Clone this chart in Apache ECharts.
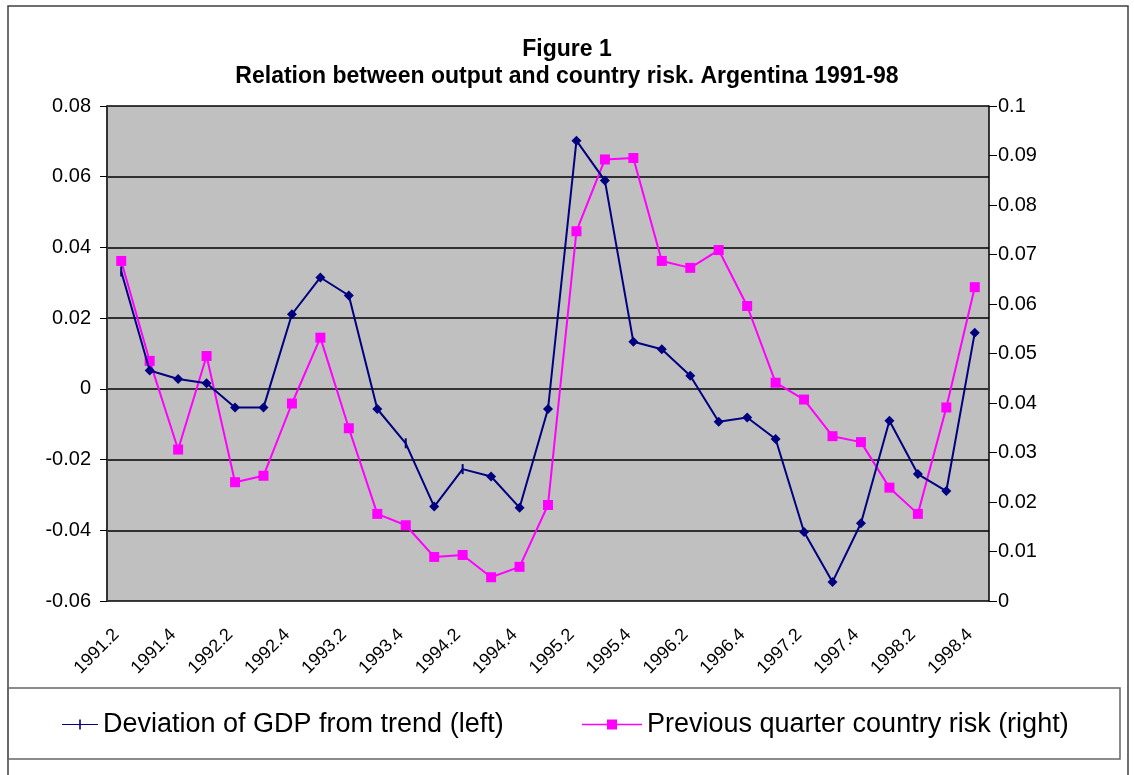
<!DOCTYPE html>
<html>
<head>
<meta charset="utf-8">
<title>Figure 1</title>
<script src="https://cdn.jsdelivr.net/npm/echarts@6/dist/echarts.min.js"></script>
<style>
  html, body { margin: 0; padding: 0; background: #fff; }
  #main { width: 1134px; height: 775px; }
</style>
</head>
<body>
<div id="main"></div>
<script>
const quarters = [
  '1991.2', '1991.3', '1991.4',
  '1992.1', '1992.2', '1992.3', '1992.4',
  '1993.1', '1993.2', '1993.3', '1993.4',
  '1994.1', '1994.2', '1994.3', '1994.4',
  '1995.1', '1995.2', '1995.3', '1995.4',
  '1996.1', '1996.2', '1996.3', '1996.4',
  '1997.1', '1997.2', '1997.3', '1997.4',
  '1998.1', '1998.2', '1998.3', '1998.4'
]
const gdpDeviation = [
  0.0332, 0.0052, 0.0028, 0.0016, -0.0053, -0.0053, 0.0211, 0.0315,
  0.0264, -0.0057, -0.0154, -0.0333, -0.0227, -0.0248, -0.0336, -0.0057,
  0.0702, 0.0589, 0.0133, 0.0112, 0.0037, -0.0093, -0.0081, -0.0142,
  -0.0405, -0.0546, -0.038, -0.009, -0.0241, -0.0289, 0.0159
]
const countryRisk = [
  0.0687, 0.0485, 0.0306, 0.0495, 0.0240, 0.0253, 0.0399, 0.0532,
  0.0349, 0.0176, 0.0153, 0.0089, 0.0093, 0.0048, 0.0069, 0.0194,
  0.0747, 0.0892, 0.0895, 0.0687, 0.0673, 0.0709, 0.0596, 0.0441,
  0.0407, 0.0333, 0.0321, 0.0229, 0.0176, 0.0391, 0.0634
]
// points that Excel drew as a short dash instead of a diamond
const dashPoints = [0, 10, 12]

const gdpName = 'Deviation of GDP from trend (left)'
const riskName = 'Previous quarter country risk (right)'
const font = 'Arial, "Liberation Sans", sans-serif'

const chart = echarts.init(document.getElementById('main'))

const gdpData = gdpDeviation.map((v, i) => {
  if (dashPoints.indexOf(i) >= 0) {
    return { value: v, symbol: 'rect', symbolSize: [2, 10] }
  }
  return v
})

chart.setOption({
  animation: false,
  backgroundColor: '#fff',
  title: {
    text: 'Figure 1\nRelation between output and country risk. Argentina 1991-98',
    left: 'center',
    top: 31,
    padding: [5, 0, 5, 20],
    textStyle: {
      fontFamily: font,
      fontSize: 23,
      fontWeight: 'bold',
      color: '#000',
      lineHeight: 27
    }
  },
  grid: {
    left: 107,
    right: 145,
    top: 106,
    bottom: 174,
    show: true,
    backgroundColor: '#c0c0c0',
    borderWidth: 0
  },
  legend: [
    {
      data: [{ name: gdpName, icon: 'path://M0,9.4H36V10.6H0Z M17.2,5H18.8V15H17.2Z' }],
      left: 62,
      top: 711,
      padding: 0,
      itemWidth: 36,
      itemHeight: 10,
      textStyle: { fontFamily: font, fontSize: 27, color: '#000' }
    },
    {
      data: [{ name: riskName, icon: 'path://M0,9.2H25V10.8H0Z M25,5H35V15H25Z M35,9.2H60V10.8H35Z' }],
      left: 582,
      top: 711,
      padding: 0,
      itemWidth: 60,
      itemHeight: 10,
      textStyle: { fontFamily: font, fontSize: 27, color: '#000' }
    }
  ],
  xAxis: {
    type: 'category',
    data: quarters,
    boundaryGap: true,
    axisLine: { lineStyle: { color: '#333', width: 2 } },
    axisTick: { show: false },
    axisLabel: {
      interval: 1,
      rotate: 45,
      margin: 26,
      padding: [0, 7, 0, 0],
      fontFamily: font,
      fontSize: 18,
      color: '#000'
    }
  },
  yAxis: [
    {
      type: 'value',
      min: -0.06,
      max: 0.08,
      interval: 0.02,
      axisLine: { show: true, lineStyle: { color: '#333', width: 2 } },
      axisTick: { show: true, length: 7, lineStyle: { color: '#000' } },
      axisLabel: { margin: 16, fontFamily: font, fontSize: 20, color: '#000' },
      splitLine: { show: true, lineStyle: { color: '#000', width: 1.5 } }
    },
    {
      type: 'value',
      min: 0,
      max: 0.1,
      interval: 0.01,
      axisLine: { show: true, lineStyle: { color: '#000', width: 1.5 } },
      axisTick: { show: true, length: 8, lineStyle: { color: '#000' } },
      axisLabel: { margin: 9, fontFamily: font, fontSize: 20, color: '#000' },
      splitLine: { show: false }
    }
  ],
  series: [
    {
      name: riskName,
      type: 'line',
      yAxisIndex: 1,
      data: countryRisk,
      symbol: 'rect',
      symbolSize: 10,
      color: '#ff00ff',
      lineStyle: { color: '#ff00ff', width: 2 },
      itemStyle: { color: '#ff00ff' },
      z: 2
    },
    {
      name: gdpName,
      type: 'line',
      yAxisIndex: 0,
      data: gdpData,
      symbol: 'diamond',
      symbolSize: 10,
      color: '#000080',
      lineStyle: { color: '#000080', width: 2 },
      itemStyle: { color: '#000080' },
      z: 3
    }
  ],
  graphic: [
    {
      type: 'rect',
      shape: { x: 8, y: 6, width: 1120, height: 800 },
      style: { fill: 'none', stroke: '#404040', lineWidth: 1.5 },
      silent: true
    },
    {
      type: 'rect',
      shape: { x: 8, y: 688, width: 1112, height: 71 },
      style: { fill: 'none', stroke: '#666', lineWidth: 1.5 },
      silent: true
    }
  ]
})
</script>
</body>
</html>
